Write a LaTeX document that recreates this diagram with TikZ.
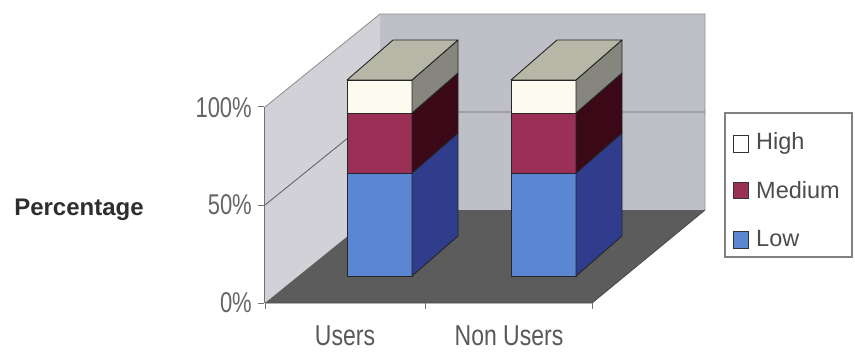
\documentclass[tikz,border=0pt]{standalone}
\usepackage{fontspec}
\setmainfont{Liberation Sans}
\begin{document}
\begin{tikzpicture}[x=1pt,y=-1pt,
  edge/.style={draw=black!85,line width=0.9pt,line join=round},
  axisline/.style={draw=black!55,line width=1pt},
  ticklbl/.style={text=black!60,font=\fontsize{22}{24}\selectfont,yscale=1.3,inner sep=0pt},
  catlbl/.style={text=black!65,font=\fontsize{23}{25}\selectfont,yscale=1.25,inner sep=0pt},
  leglbl/.style={text=black!70,font=\fontsize{23.5}{25}\selectfont,anchor=west,inner sep=0pt},
  legmark/.style={draw=black!80,line width=0.8pt}]
\definecolor{backwall}{HTML}{BFBFC8}
\definecolor{leftwall}{HTML}{D1D1D7}
\definecolor{floorc}{HTML}{5C5C5C}
\definecolor{lowf}{HTML}{5B86D1}
\definecolor{lows}{HTML}{2F3D8C}
\definecolor{medf}{HTML}{9A3056}
\definecolor{meds}{HTML}{3A0816}
\definecolor{highf}{HTML}{FBFBEF}
\definecolor{highs}{HTML}{86867E}
\definecolor{topc}{HTML}{B6B7A7}
\useasboundingbox[fill=white] (0,0) rectangle (855,353);
% walls and floor
\fill[backwall] (380,14) rectangle (705,210);
\fill[leftwall] (265,303) -- (265,107) -- (380,14) -- (380,210) -- cycle;
\fill[floorc] (265,303) -- (592,303) -- (705,210) -- (380,210) -- cycle;
\draw[black!45,line width=0.8pt] (265,107) -- (380,14) -- (705,14) -- (705,210);
\draw[black!60,line width=0.9pt] (265,205) -- (380,112) -- (705,112);
\draw[black!70,line width=0.9pt] (265,303) -- (592,303) -- (705,210);
% axes
\draw[axisline] (264,107) -- (264,303);
\foreach \ty in {107,205,303} \draw[axisline] (258,\ty) -- (264,\ty);
\foreach \tx in {265,425,592} \draw[axisline] (\tx,303) -- (\tx,309);
% bars
\foreach \bx in {347,511}{
  \filldraw[fill=lowf,edge] (\bx,276) rectangle (\bx+65,173);
  \filldraw[fill=lows,edge] (\bx+65,276) -- (\bx+111,236) -- (\bx+111,133) -- (\bx+65,173) -- cycle;
  \filldraw[fill=medf,edge] (\bx,173) rectangle (\bx+65,113);
  \filldraw[fill=meds,edge] (\bx+65,173) -- (\bx+111,133) -- (\bx+111,73) -- (\bx+65,113) -- cycle;
  \filldraw[fill=highf,edge] (\bx,113) rectangle (\bx+65,80);
  \filldraw[fill=highs,edge] (\bx+65,113) -- (\bx+111,73) -- (\bx+111,40) -- (\bx+65,80) -- cycle;
  \filldraw[fill=topc,edge] (\bx,80) -- (\bx+65,80) -- (\bx+111,40) -- (\bx+46,40) -- cycle;
}
% labels
\node[ticklbl,anchor=east] (t100) at (252,108) {100\%};
\node[ticklbl,anchor=east] (t50) at (252,205) {50\%};
\node[ticklbl,anchor=east] (t0) at (252,303) {0\%};
\node[catlbl] (cu) at (345,336) {Users};
\node[catlbl] (cn) at (509,336) {Non Users};
\node[text=black!82,font=\bfseries\fontsize{24}{26}\selectfont,inner sep=0pt] (ylab) at (79,210) {Percentage};
% legend
\draw[draw=black!50,line width=1.2pt,fill=white] (725,113) rectangle (852,257);
\draw[legmark,fill=white] (733,135) rectangle (748,152);
\draw[legmark,fill=medf] (733,182) rectangle (748,198);
\draw[legmark,fill=lowf] (733,231) rectangle (748,248);
\node[leglbl] (lh) at (756,143) {High};
\node[leglbl] (lm) at (756,190) {Medium};
\node[leglbl] (ll) at (756,239) {Low};
\end{tikzpicture}
\end{document}
